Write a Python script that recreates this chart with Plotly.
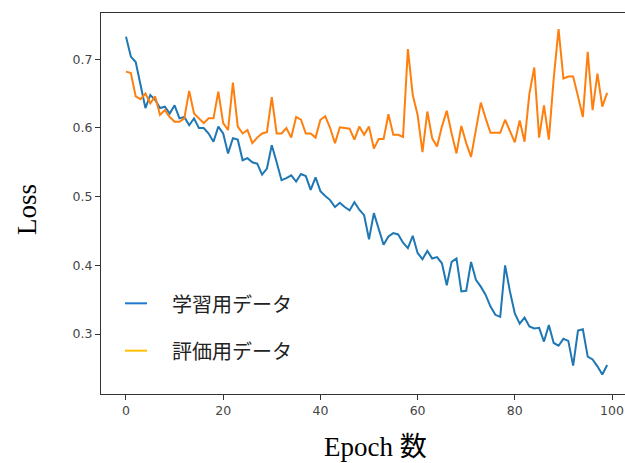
import plotly.graph_objects as go

epochs = list(range(100))

train_loss = [
    0.733, 0.704, 0.696, 0.662, 0.629, 0.648, 0.641, 0.629, 0.631, 0.621,
    0.633, 0.614, 0.616, 0.604, 0.614, 0.600, 0.600, 0.592, 0.580, 0.602,
    0.592, 0.563, 0.585, 0.583, 0.553, 0.556, 0.550, 0.548, 0.532, 0.541,
    0.575, 0.550, 0.524, 0.527, 0.531, 0.522, 0.533, 0.530, 0.510, 0.528,
    0.508, 0.501, 0.495, 0.485, 0.491, 0.485, 0.480, 0.492, 0.481, 0.473,
    0.438, 0.476, 0.452, 0.430, 0.442, 0.447, 0.445, 0.433, 0.425, 0.443,
    0.418, 0.409, 0.421, 0.410, 0.412, 0.403, 0.371, 0.405, 0.410, 0.362,
    0.363, 0.405, 0.379, 0.369, 0.357, 0.340, 0.328, 0.325, 0.400, 0.362,
    0.330, 0.315, 0.324, 0.311, 0.308, 0.309, 0.289, 0.313, 0.287, 0.283,
    0.293, 0.290, 0.254, 0.305, 0.307, 0.267, 0.263, 0.253, 0.241, 0.255,
]

val_loss = [
    0.682, 0.680, 0.646, 0.642, 0.650, 0.636, 0.646, 0.619, 0.626, 0.616,
    0.609, 0.609, 0.614, 0.654, 0.621, 0.614, 0.607, 0.614, 0.614, 0.653,
    0.607, 0.597, 0.666, 0.602, 0.592, 0.597, 0.578, 0.586, 0.592, 0.594,
    0.645, 0.592, 0.592, 0.600, 0.586, 0.616, 0.612, 0.592, 0.592, 0.586,
    0.612, 0.617, 0.600, 0.578, 0.601, 0.600, 0.599, 0.583, 0.602, 0.590,
    0.602, 0.570, 0.584, 0.584, 0.620, 0.590, 0.590, 0.587, 0.715, 0.648,
    0.619, 0.565, 0.624, 0.585, 0.573, 0.602, 0.625, 0.592, 0.563, 0.603,
    0.578, 0.558, 0.597, 0.637, 0.614, 0.593, 0.593, 0.593, 0.612, 0.595,
    0.579, 0.611, 0.580, 0.650, 0.688, 0.586, 0.633, 0.583, 0.672, 0.744,
    0.672, 0.675, 0.675, 0.646, 0.616, 0.711, 0.626, 0.679, 0.631, 0.651,
]

x_ticks = [0, 20, 40, 60, 80, 100]
y_ticks = [0.3, 0.4, 0.5, 0.6, 0.7]
y_tick_labels = ["0.3", "0.4", "0.5", "0.6", "0.7"]

legend_labels = ["学習用データ", "評価用データ"]
legend_colors = ["#1f77d0", "#ffc000"]

fig = go.Figure()
fig.add_trace(go.Scatter(x=epochs, y=train_loss, mode="lines",
                         line=dict(color="#1f77b4", width=2), showlegend=False))
fig.add_trace(go.Scatter(x=epochs, y=val_loss, mode="lines",
                         line=dict(color="#ff7f0e", width=2), showlegend=False))

axis_color = "#333333"
tick_font = dict(family="DejaVu Sans", size=12.5, color="#444444")

fig.update_layout(
    width=625, height=463,
    margin=dict(l=101, r=0, t=13, b=69),
    paper_bgcolor="white", plot_bgcolor="white",
    showlegend=False,
    xaxis=dict(range=[-5.14, 102.67], tickvals=x_ticks, ticks="outside",
               ticklen=5, tickwidth=1, tickcolor=axis_color,
               showline=True, linecolor=axis_color, linewidth=1.3, mirror=True,
               showgrid=False, zeroline=False, tickfont=tick_font),
    yaxis=dict(range=[0.2127, 0.7674], tickvals=y_ticks, ticktext=y_tick_labels,
               ticks="outside", ticklen=5, tickwidth=1, tickcolor=axis_color,
               showline=True, linecolor=axis_color, linewidth=1.3, mirror=False,
               showgrid=False, zeroline=False, tickfont=tick_font),
)

serif = "Liberation Serif, Noto Sans CJK JP"
fig.add_annotation(text="Loss", xref="paper", yref="paper", x=-0.141, y=0.483,
                   xanchor="center", yanchor="middle",
                   textangle=-90, showarrow=False,
                   font=dict(family=serif, size=27, color="black"))
fig.add_annotation(text="Epoch 数", xref="paper", yref="paper", x=0.523, y=-0.139,
                   xanchor="center", yanchor="middle",
                   showarrow=False, font=dict(family=serif, size=27, color="black"))

# legend drawn manually (line colours differ from traces in the original)
leg_y = [0.238, 0.1137]
for lab, col, yy in zip(legend_labels, legend_colors, leg_y):
    fig.add_shape(type="line", xref="paper", yref="paper",
                  x0=0.0458, x1=0.0878, y0=yy, y1=yy,
                  line=dict(color=col, width=2))
    fig.add_annotation(text=lab, xref="paper", yref="paper", x=0.1317, y=yy,
                       xanchor="left", yanchor="middle", showarrow=False,
                       font=dict(family="Noto Sans CJK JP", size=20, color="#222222"))

fig.write_html(
    "out.html",
    config={"displayModeBar": False},
    post_script="document.body.style.margin='0';document.body.style.overflow='hidden';",
)
